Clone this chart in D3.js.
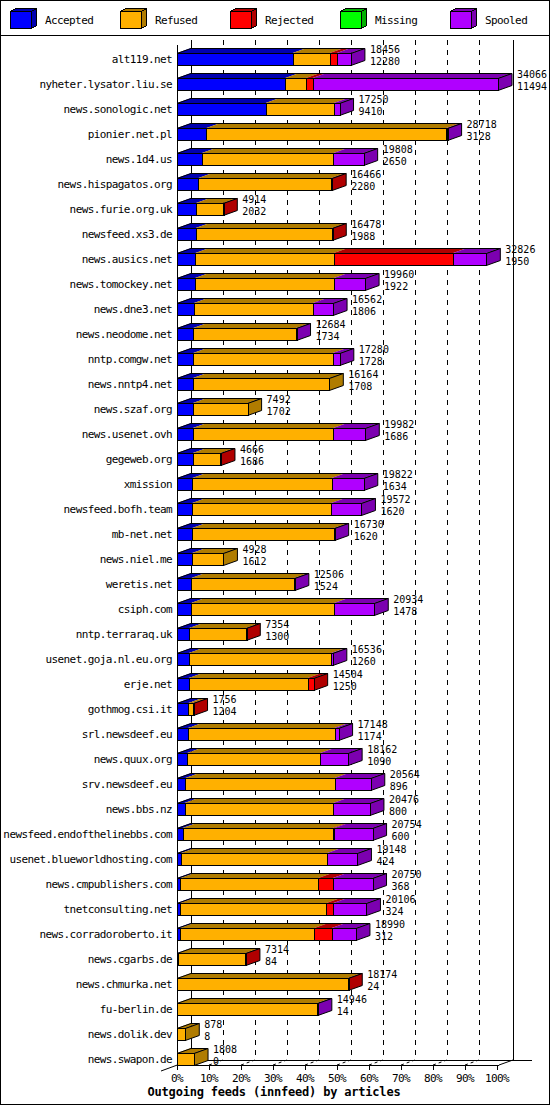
<!DOCTYPE html>
<html>
<head>
<meta charset="utf-8">
<title>Outgoing feeds (innfeed) by articles</title>
<script src="https://d3js.org/d3.v7.min.js"></script>
<style>
  body { margin: 0; background: #fff; }
  text { font-family: "DejaVu Sans Mono", monospace; font-size: 11px; letter-spacing: -0.6px; fill: #000; }
  .val { font-size: 10px; letter-spacing: 0; }
  .title { font-weight: bold; font-size: 12px; letter-spacing: -0.2px; }
</style>
</head>
<body>
<div id="chart"></div>
<script>
// data
const hosts = ["alt119.net","nyheter.lysator.liu.se","news.sonologic.net","pionier.net.pl","news.1d4.us",
  "news.hispagatos.org","news.furie.org.uk","newsfeed.xs3.de","news.ausics.net","news.tomockey.net",
  "news.dne3.net","news.neodome.net","nntp.comgw.net","news.nntp4.net","news.szaf.org",
  "news.usenet.ovh","gegeweb.org","xmission","newsfeed.bofh.team","mb-net.net",
  "news.niel.me","weretis.net","csiph.com","nntp.terraraq.uk","usenet.goja.nl.eu.org",
  "erje.net","gothmog.csi.it","srl.newsdeef.eu","news.quux.org","srv.newsdeef.eu",
  "news.bbs.nz","newsfeed.endofthelinebbs.com","usenet.blueworldhosting.com","news.cmpublishers.com","tnetconsulting.net",
  "news.corradoroberto.it","news.cgarbs.de","news.chmurka.net","fu-berlin.de","news.dolik.dev",
  "news.swapon.de"];
const offered  = [18456,34066,17250,28718,19808,16466,4914,16478,32826,19960,16562,12684,17280,16164,7492,
  19982,4666,19822,19572,16730,4928,12506,20934,7354,16536,14504,1756,17148,18162,20564,20476,20754,19148,
  20750,20106,18990,7314,18174,14946,878,1808];
const accepted = [12280,11494,9410,3128,2650,2280,2032,1988,1950,1922,1806,1734,1728,1708,1702,
  1686,1686,1634,1620,1620,1612,1524,1478,1300,1260,1250,1204,1174,1090,896,800,600,424,
  368,324,312,84,24,14,8,0];
const refused  = [3940,2200,7240,25440,13958,14086,2832,14440,14696,14738,12626,10900,14802,14456,5790,
  14896,2930,14788,14752,15060,3316,10932,15206,6004,15126,12614,450,15544,14122,15838,15776,15904,15524,
  14622,15532,14268,7180,18100,14882,870,1808];
const rejected = [745,700,0,100,0,100,50,50,12670,0,0,0,0,0,0,
  0,50,0,0,0,0,0,0,50,0,640,102,0,0,0,0,200,0,
  1560,750,1850,50,50,0,0,0];
const missing  = [0,0,0,0,0,0,0,0,0,0,0,0,0,0,0,0,0,0,0,0,0,0,0,0,0,0,0,0,0,0,0,0,0,0,0,0,0,0,0,0,0];
const spooled  = [1491,19672,600,50,3200,0,0,0,3510,3300,2130,50,750,0,0,
  3400,0,3400,3200,50,0,50,4250,0,150,0,0,430,2950,3830,3900,4050,3200,
  4200,3500,2560,0,0,50,0,0];
const seriesNames = ["Accepted","Refused","Rejected","Missing","Spooled"];
const pctTicks = [0,10,20,30,40,50,60,70,80,90,100];

const front = ["#0000ff","#ffb000","#ff0000","#00ff00","#b000ff"];
const dark  = ["#0000b0","#b07c00","#b00000","#00b000","#7c00b0"];

const W = 550, H = 1105;
const DX = 14, DY = 5, BH = 12;

const svg = d3.select("#chart").append("svg")
  .attr("width", W).attr("height", H)
  .attr("shape-rendering", "crispEdges");

svg.append("rect").attr("x", 0.5).attr("y", 0.5).attr("width", W - 1).attr("height", H - 1)
  .attr("fill", "#fff").attr("stroke", "#000");
svg.append("line").attr("x1", 0).attr("x2", W).attr("y1", 35.5).attr("y2", 35.5).attr("stroke", "#000");

// legend
const legend = svg.append("g").selectAll("g").data(seriesNames).join("g")
  .attr("transform", (d, i) => `translate(${10 + i * 110},0)`);
legend.append("polygon")
  .attr("points", "0.5,11.5 5.5,8.5 26.5,8.5 21.5,11.5")
  .attr("fill", (d, i) => dark[i]).attr("stroke", "#000");
legend.append("polygon")
  .attr("points", "21.5,11.5 26.5,8.5 26.5,25.5 21.5,28.5")
  .attr("fill", (d, i) => dark[i]).attr("stroke", "#000");
legend.append("rect").attr("x", 0.5).attr("y", 11.5).attr("width", 21).attr("height", 17)
  .attr("fill", (d, i) => front[i]).attr("stroke", "#000");
legend.append("text").attr("x", 35).attr("y", 24).text(d => d);

// scales
const x = d3.scaleLinear().domain([0, d3.max(offered)]).range([177, 498]);
const pct = d3.scaleLinear().domain([0, 100]).range([177, 497]);
const y = d3.scaleBand().domain(hosts).range([45, 45 + hosts.length * 25]);

const topY = 40, floorY = 1060;

// back wall grid
const grid = svg.append("g").attr("stroke", "#000").attr("fill", "none");
grid.selectAll(".vgrid").data(pctTicks.slice(1, -1)).join("line")
  .attr("x1", d => pct(d) + DX + 0.5).attr("x2", d => pct(d) + DX + 0.5)
  .attr("y1", topY).attr("y2", floorY)
  .attr("stroke-dasharray", "5,5");
grid.selectAll(".fgrid").data(pctTicks.slice(1, -1)).join("line")
  .attr("x1", d => pct(d)).attr("y1", floorY + DY)
  .attr("x2", d => pct(d) + DX).attr("y2", floorY)
  .attr("stroke-dasharray", "3,3").attr("shape-rendering", "auto");
grid.append("line").attr("x1", pct(0) + DX + 0.5).attr("x2", pct(0) + DX + 0.5)
  .attr("y1", topY).attr("y2", floorY);
grid.append("line").attr("x1", pct(100) + DX + 2.5).attr("x2", pct(100) + DX + 2.5)
  .attr("y1", topY).attr("y2", floorY);
grid.append("line").attr("x1", pct(0) + 0.5).attr("x2", pct(0) + 0.5)
  .attr("y1", topY + DY).attr("y2", floorY + DY);
grid.append("line").attr("x1", pct(0) + DX).attr("x2", 532)
  .attr("y1", floorY + 0.5).attr("y2", floorY + 0.5);
grid.append("line").attr("x1", pct(0)).attr("x2", pct(100) + 2)
  .attr("y1", floorY + DY + 0.5).attr("y2", floorY + DY + 0.5);
grid.append("line").attr("x1", pct(100) + 2).attr("y1", floorY + DY)
  .attr("x2", pct(100) + DX + 2).attr("y2", floorY).attr("shape-rendering", "auto");
grid.append("line").attr("x1", 161).attr("y1", floorY + DY + 6)
  .attr("x2", pct(0) + DX).attr("y2", floorY).attr("shape-rendering", "auto");
grid.selectAll(".tick").data(pctTicks).join("line")
  .attr("x1", d => pct(d) + 0.5).attr("x2", d => pct(d) + 0.5)
  .attr("y1", floorY + DY).attr("y2", floorY + DY + 5);

svg.append("g").selectAll("text").data(pctTicks).join("text")
  .attr("x", d => pct(d)).attr("y", 1082).attr("text-anchor", "middle")
  .text(d => d + "%");

svg.append("text").attr("class", "title").attr("x", 274).attr("y", 1096)
  .attr("text-anchor", "middle").text("Outgoing feeds (innfeed) by articles");

// bars
const rows = hosts.map((h, i) => {
  const vals = [accepted[i], refused[i], rejected[i], missing[i], spooled[i]];
  let c = 0;
  const segs = vals.map((v, k) => { const s = { k, x0: c, x1: c + v }; c += v; return s; })
    .filter(s => s.x1 > s.x0);
  return { host: h, i, segs, end: c, total: offered[i], acc: accepted[i] };
});

const bars = svg.append("g").selectAll("g").data(rows).join("g")
  .attr("transform", d => `translate(0,${y(d.host) + 8})`);

bars.each(function (d) {
  const g = d3.select(this);
  const xe = x(d.end);
  const last = d.segs[d.segs.length - 1].k;
  // top faces
  g.selectAll(".top").data(d.segs).join("polygon")
    .attr("points", s => [[x(s.x0), 0], [x(s.x1), 0], [x(s.x1) + DX, -DY], [x(s.x0) + DX, -DY]].join(" "))
    .attr("fill", s => dark[s.k]).attr("shape-rendering", "auto");
  g.append("polygon")
    .attr("points", [[x(0), 0.5], [x(0) + DX, -DY + 0.5], [xe + DX, -DY + 0.5], [xe, 0.5]].join(" "))
    .attr("fill", "none").attr("stroke", "#000").attr("shape-rendering", "auto");
  // side face
  g.append("polygon")
    .attr("points", [[xe, 0.5], [xe + DX, -DY + 0.5], [xe + DX, -DY + BH + 0.5], [xe, BH + 0.5]].join(" "))
    .attr("fill", dark[last]).attr("stroke", "#000").attr("shape-rendering", "auto");
  // front faces
  g.selectAll(".front").data(d.segs).join("rect")
    .attr("x", s => Math.round(x(s.x0)) + 0.5).attr("y", 0.5)
    .attr("width", s => Math.max(1, Math.round(x(s.x1)) - Math.round(x(s.x0))))
    .attr("height", BH)
    .attr("fill", s => front[s.k]).attr("stroke", "#000");
  // values
  g.append("text").attr("class", "val").attr("x", xe + DX + 5).attr("y", 0).text(d.total);
  g.append("text").attr("class", "val").attr("x", xe + DX + 5).attr("y", 12).text(d.acc);
  // host label
  g.append("text").attr("x", 172).attr("y", 10).attr("text-anchor", "end").text(d.host);
});
</script>
</body>
</html>
